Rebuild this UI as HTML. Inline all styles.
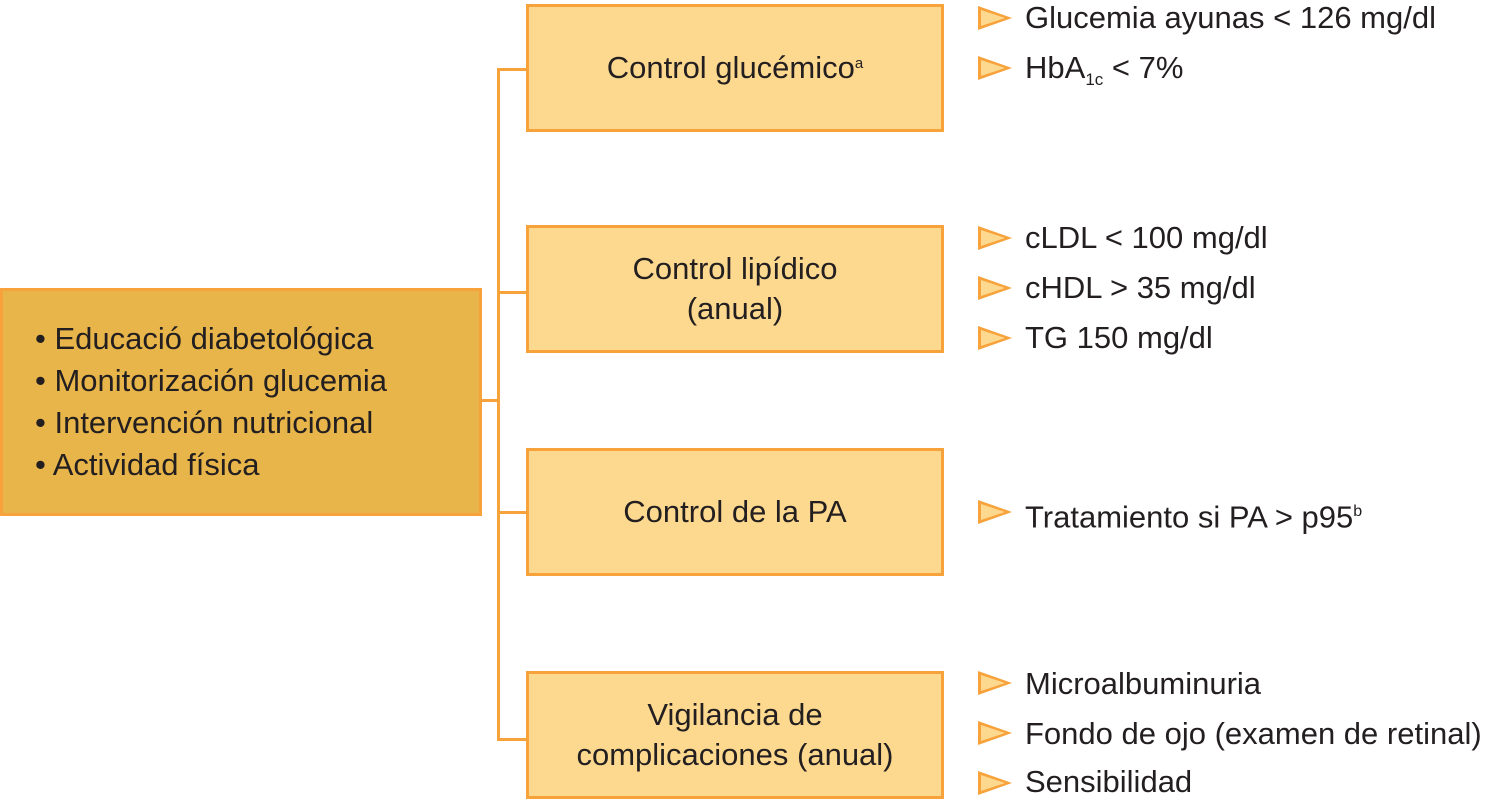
<!DOCTYPE html>
<html><head><meta charset="utf-8"><style>
body{margin:0;width:1511px;height:802px;background:#fff;position:relative;overflow:hidden;font-family:"Liberation Sans",sans-serif;color:#231f20}
.b{position:absolute;box-sizing:border-box;border:3px solid #F7A23B;background:#FDD98F;display:flex;align-items:center;justify-content:center;text-align:center;font-size:31px;line-height:40px}
.l{position:absolute;background:#F7A23B}
.t{position:absolute;left:978px;width:0;height:0;border-top:12px solid transparent;border-bottom:12px solid transparent;border-left:34px solid #F7A23B}
.t::after{content:"";position:absolute;left:-31px;top:-8px;border-top:8px solid transparent;border-bottom:8px solid transparent;border-left:24px solid #FDD98F}
.x{position:absolute;left:1025px;font-size:31px;line-height:40px;white-space:nowrap}
</style></head><body>
<div class="b" style="left:0;top:288px;width:482px;height:228px;background:#E8B54A;justify-content:flex-start;text-align:left;padding-left:32px;line-height:42px;font-size:31px">• Educació diabetológica<br>• Monitorización glucemia<br>• Intervención nutricional<br>• Actividad física</div>
<div class="l" style="left:481px;top:399px;width:18px;height:3px"></div>
<div class="l" style="left:497px;top:68px;width:3px;height:673px"></div>
<div class="l" style="left:497px;top:68px;width:30px;height:3px"></div>
<div class="l" style="left:497px;top:291px;width:30px;height:3px"></div>
<div class="l" style="left:497px;top:511px;width:30px;height:3px"></div>
<div class="l" style="left:497px;top:738px;width:30px;height:3px"></div>
<div class="b" style="left:526px;top:4px;width:418px;height:128px">Control glucémico<sup style="font-size:15px;position:relative;top:-4px">a</sup></div>
<div class="b" style="left:526px;top:225px;width:418px;height:128px">Control lipídico<br>(anual)</div>
<div class="b" style="left:526px;top:448px;width:418px;height:128px">Control de la PA</div>
<div class="b" style="left:526px;top:671px;width:418px;height:128px">Vigilancia de<br>complicaciones (anual)</div>
<div class="t" style="top:6px"></div><div class="x" style="top:-2px">Glucemia ayunas &lt; 126 mg/dl</div>
<div class="t" style="top:56px"></div><div class="x" style="top:48px">HbA<sub style="font-size:17px">1c</sub> &lt; 7%</div>
<div class="t" style="top:226px"></div><div class="x" style="top:218px">cLDL &lt; 100 mg/dl</div>
<div class="t" style="top:276px"></div><div class="x" style="top:268px">cHDL &gt; 35 mg/dl</div>
<div class="t" style="top:326px"></div><div class="x" style="top:318px">TG 150 mg/dl</div>
<div class="t" style="top:500px"></div><div class="x" style="top:492px">Tratamiento si PA &gt; p95<sup style="font-size:16px">b</sup></div>
<div class="t" style="top:671px"></div><div class="x" style="top:664px">Microalbuminuria</div>
<div class="t" style="top:721px"></div><div class="x" style="top:714px">Fondo de ojo (examen de retinal)</div>
<div class="t" style="top:771px"></div><div class="x" style="top:762px">Sensibilidad</div>
</body></html>
